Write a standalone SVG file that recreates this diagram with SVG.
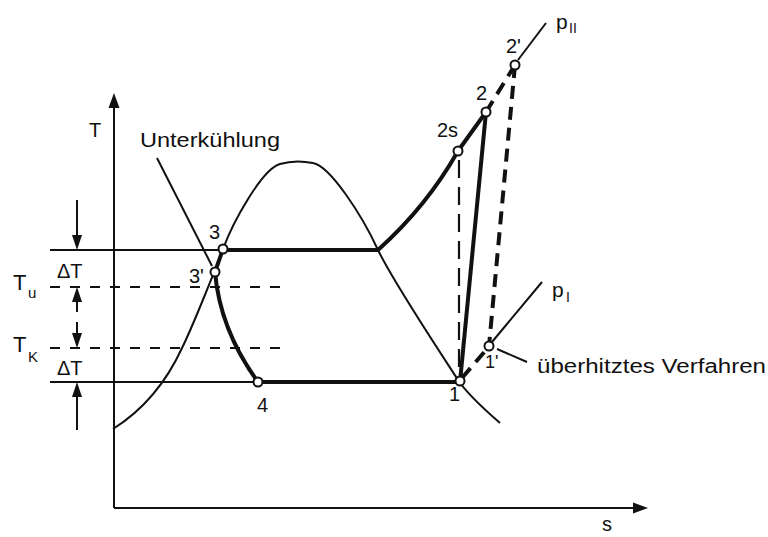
<svg xmlns="http://www.w3.org/2000/svg" width="768" height="537" viewBox="0 0 768 537">
<style>
  text { font-family: "Liberation Sans", Arial, sans-serif; fill: #111; }
  .lbl { font-size: 20px; }
  .sub { font-size: 15px; }
  .thin { fill: none; stroke: #111; stroke-width: 2; }
  .thick { fill: none; stroke: #111; stroke-width: 4; stroke-linejoin: round; }
  .dash { fill: none; stroke: #111; stroke-width: 1.8; stroke-dasharray: 10 10; }
  .vdash { fill: none; stroke: #111; stroke-width: 2.2; stroke-dasharray: 18 9; }
  .tdash { fill: none; stroke: #111; stroke-width: 4; stroke-dasharray: 13 8; }
  .pt { fill: #fff; stroke: #111; stroke-width: 2; }
  .ah { fill: #111; stroke: none; }
</style>
<rect width="768" height="537" fill="#fff"/>

<g id="axes">
  <path class="thin" d="M114,508 V105 M114,508 H636"/>
  <polygon class="ah" points="114,93 108.5,108 119.5,108"/>
  <polygon class="ah" points="648,508 633,502.5 633,513.5"/>
  <text class="lbl" x="89" y="137">T</text>
  <text class="lbl" x="602" y="531">s</text>
</g>

<g id="reference-lines">
  <path class="thin" d="M50,250 H223 M50,382 H258"/>
  <path class="dash" d="M50,287 H280 M50,348 H280"/>
  <path class="thin" d="M77,200 V238 M77,312 V299 M77,322 V336 M77,430 V394"/>
  <polygon class="ah" points="77,250 72,235 82,235"/>
  <polygon class="ah" points="77,287 72,302 82,302"/>
  <polygon class="ah" points="77,348 72,333 82,333"/>
  <polygon class="ah" points="77,382 72,397 82,397"/>
  <text class="lbl" x="57" y="278">ΔT</text>
  <text class="lbl" x="57" y="375">ΔT</text>
  <text x="13" y="290" font-size="22">T</text>
  <text class="sub" x="28" y="298">u</text>
  <text x="13" y="352" font-size="22">T</text>
  <text class="sub" x="28" y="362">K</text>
</g>

<g id="connectors">
  <path id="saturation-curve" class="thin" d="M113,429 C140,412 165,385 182,348 C192,328 214,273 223,249 C233,222 262,169 280,164 C290,161 303,161 313,163 C330,166 362,215 378,250 C394,283 440,352 458,380 C468,395 485,410 500,423"/>
  <path class="thick" d="M223,250 H378 M258,382 H460"/>
  <path class="thick" d="M223,249 L215,272 Q220,330 258,382"/>
  <path class="thick" d="M378,250 Q427,206 458,151 L486,112"/>
  <path class="thick" d="M486,112 L460,382"/>
  <path class="vdash" d="M459,160 V378"/>
  <path class="tdash" d="M486,112 L515,65"/>
  <path class="tdash" d="M515,65 L489,346"/>
  <path class="tdash" d="M462,378 L486,350"/>
  <path class="thin" d="M518,60 L546,23"/>
  <path class="thin" d="M492,342 L542,282"/>
  <path class="thin" d="M497,349 L527,362"/>
  <path class="thin" d="M157,158 L212,266"/>
</g>

<g id="label-unterkuehlung">
  <text class="lbl" x="140" y="147" textLength="140" lengthAdjust="spacingAndGlyphs">Unterkühlung</text>
</g>
<g id="label-ueberhitzt">
  <text class="lbl" x="537" y="373" textLength="229" lengthAdjust="spacingAndGlyphs">überhitztes Verfahren</text>
</g>
<g id="label-pII">
  <text x="556" y="29" font-size="21">p</text>
  <text x="569" y="33" font-size="14">II</text>
</g>
<g id="label-pI">
  <text x="552" y="297" font-size="21">p</text>
  <text x="566" y="302" font-size="14">I</text>
</g>

<g id="point-3"><circle class="pt" cx="223" cy="249" r="4.5"/><text class="lbl" x="209" y="239">3</text></g>
<g id="point-3p"><circle class="pt" cx="215" cy="272" r="4.5"/><text class="lbl" x="189" y="283">3'</text></g>
<g id="point-4"><circle class="pt" cx="258" cy="382" r="4.5"/><text class="lbl" x="257" y="412">4</text></g>
<g id="point-1"><circle class="pt" cx="460" cy="381" r="4.5"/><text class="lbl" x="449" y="401">1</text></g>
<g id="point-1p"><circle class="pt" cx="489" cy="346" r="4.5"/><text x="485" y="368" font-size="18">1'</text></g>
<g id="point-2s"><circle class="pt" cx="458" cy="151" r="4.5"/><text class="lbl" x="437" y="137">2s</text></g>
<g id="point-2"><circle class="pt" cx="486" cy="112" r="4.5"/><text class="lbl" x="476" y="100">2</text></g>
<g id="point-2p"><circle class="pt" cx="515" cy="65" r="4.5"/><text class="lbl" x="506" y="53">2'</text></g>
</svg>
